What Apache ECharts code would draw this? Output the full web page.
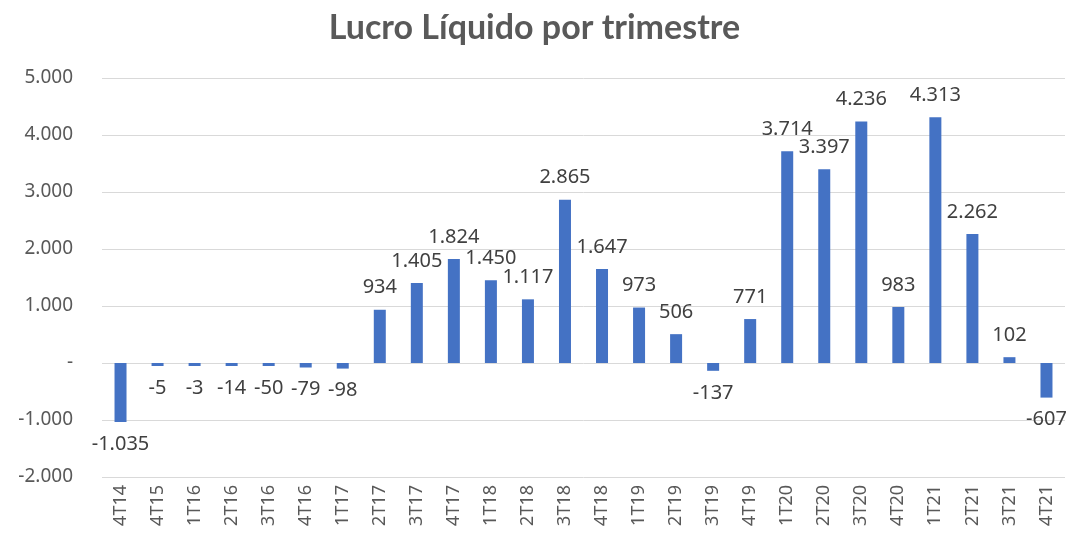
<!DOCTYPE html>
<html>
<head>
<meta charset="utf-8">
<script src="https://cdn.jsdelivr.net/npm/echarts@6/dist/echarts.min.js"></script>
<style>
  html, body { margin: 0; padding: 0; background: #fff; }
  #chart { width: 1069px; height: 542px; }
</style>
</head>
<body>
<div id="chart"></div>
<script>
const quarters = ['4T14', '4T15', '1T16', '2T16', '3T16', '4T16', '1T17', '2T17', '3T17', '4T17',
    '1T18', '2T18', '3T18', '4T18', '1T19', '2T19', '3T19', '4T19', '1T20', '2T20',
    '3T20', '4T20', '1T21', '2T21', '3T21', '4T21'];
const lucro = [-1035, -5, -3, -14, -50, -79, -98, 934, 1405, 1824,
    1450, 1117, 2865, 1647, 973, 506, -137, 771, 3714, 3397,
    4236, 983, 4313, 2262, 102, -607];

// 1.035 style, zero shown as "-"
function fmt(v) {
    if (v === 0) return '-';
    const s = Math.abs(v).toString().replace(/\B(?=(\d{3})+(?!\d))/g, '.');
    return (v < 0 ? '-' : '') + s;
}

const chart = echarts.init(document.getElementById('chart'));

chart.setOption({
    animation: false,
    title: {
        text: 'Lucro Líquido por trimestre',
        left: 'center',
        top: 6,
        textStyle: {
            fontFamily: 'Lato',
            fontWeight: 'bold',
            fontSize: 34,
            color: '#595959'
        }
    },
    grid: {
        left: 102,
        right: 4,
        top: 78,
        bottom: 65
    },
    xAxis: {
        type: 'category',
        data: quarters,
        axisLine: { show: false },
        axisTick: { show: false },
        axisLabel: {
            rotate: 90,
            margin: 8,
            fontFamily: 'Noto Sans',
            fontSize: 18,
            color: '#595959'
        }
    },
    yAxis: {
        type: 'value',
        min: -2000,
        max: 5000,
        interval: 1000,
        axisLabel: {
            formatter: fmt,
            margin: 29,
            fontFamily: 'Noto Sans',
            fontSize: 19,
            color: '#595959'
        },
        splitLine: { lineStyle: { color: '#d9d9d9', width: 1 } }
    },
    series: [
        {
            type: 'bar',
            data: lucro.map(v => ({
                value: v,
                label: { position: v < 0 ? 'bottom' : 'top' }
            })),
            barWidth: 12,
            barMinHeight: 3,
            itemStyle: { color: '#4472C4' },
            label: {
                show: true,
                distance: 12,
                formatter: p => fmt(p.value),
                fontFamily: 'Noto Sans',
                fontSize: 20,
                color: '#404040'
            }
        }
    ]
});
</script>
</body>
</html>
